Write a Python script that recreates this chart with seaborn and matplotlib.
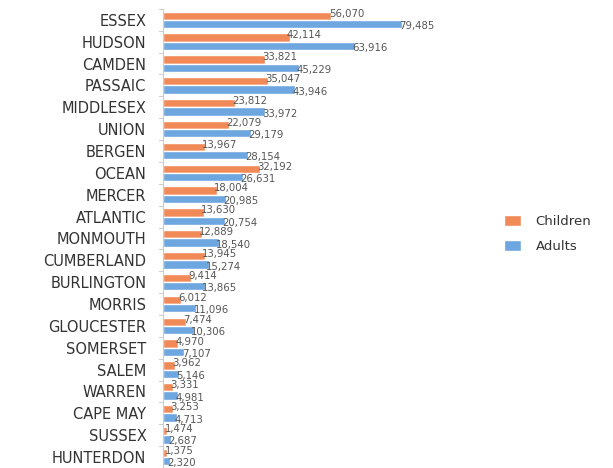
import numpy as np
import pandas as pd
import matplotlib
matplotlib.use("Agg")
import matplotlib.pyplot as plt
import seaborn as sns

counties = ["ESSEX", "HUDSON", "CAMDEN", "PASSAIC", "MIDDLESEX", "UNION", "BERGEN",
            "OCEAN", "MERCER", "ATLANTIC", "MONMOUTH", "CUMBERLAND", "BURLINGTON",
            "MORRIS", "GLOUCESTER", "SOMERSET", "SALEM", "WARREN", "CAPE MAY",
            "SUSSEX", "HUNTERDON"]
children = [56070, 42114, 33821, 35047, 23812, 22079, 13967, 32192, 18004, 13630,
            12889, 13945, 9414, 6012, 7474, 4970, 3962, 3331, 3253, 1474, 1375]
adults = [79485, 63916, 45229, 43946, 33972, 29179, 28154, 26631, 20985, 20754,
          18540, 15274, 13865, 11096, 10306, 7107, 5146, 4981, 4713, 2687, 2320]

df = pd.DataFrame({
    "county": counties * 2,
    "value": children + adults,
    "group": ["Children"] * len(counties) + ["Adults"] * len(counties),
})

sns.set_style("white")
plt.rcParams["font.family"] = ["DejaVu Sans"]

fig = plt.figure(figsize=(6.13, 4.68), dpi=100)
ax = fig.add_axes([0.266, 0.0, 0.49, 0.981])

sns.barplot(data=df, y="county", x="value", hue="group", orient="h",
            palette={"Children": "#F28A58", "Adults": "#6EA6E0"}, saturation=1,
            width=0.76, gap=0.0, ax=ax, legend=True)

# value labels sit just past the bar ends, children a bit higher, adults a bit lower
for cont, shift in zip(ax.containers, [-1.5, 1.5]):
    labels = [f"{int(v):,}" for v in cont.datavalues]
    texts = ax.bar_label(cont, labels=labels, padding=-2, fontsize=7.3, color="#555555")
    for t in texts:
        t.set_position((t.get_position()[0], t.get_position()[1] - shift))

ax.set_xlim(0, 100000)
ax.set_ylim(len(counties) - 0.5, -0.5)
ax.set_xlabel("")
ax.set_ylabel("")
ax.set_xticks([])
ax.set_yticks(np.arange(len(counties)))
ax.set_yticklabels(counties, fontsize=10.5, color="#333333")
ax.tick_params(axis="y", length=0, pad=12)
for b in np.arange(-0.5, len(counties), 1.0):
    ax.plot([-0.012, 0], [b, b], transform=ax.get_yaxis_transform(),
            color="#cccccc", lw=0.8, clip_on=False)

for s in ["top", "right", "bottom"]:
    ax.spines[s].set_visible(False)
ax.spines["left"].set_color("#cccccc")
ax.spines["left"].set_linewidth(0.8)

ax.legend(loc="center left", bbox_to_anchor=(1.095, 0.51), frameon=False,
          fontsize=9.5, handlelength=1.3, handleheight=0.9, labelspacing=0.9,
          handletextpad=1.1, labelcolor="#333333")

fig.savefig("out.png", dpi=100)
